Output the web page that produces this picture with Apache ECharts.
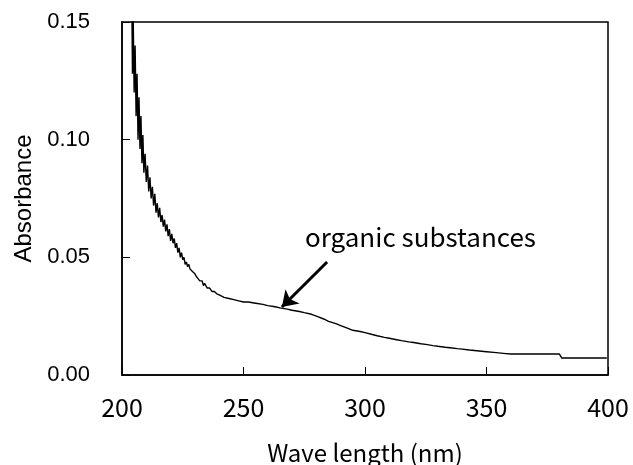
<!DOCTYPE html>
<html>
<head>
<meta charset="utf-8">
<script src="https://cdn.jsdelivr.net/npm/echarts@6/dist/echarts.min.js"></script>
<style>
html,body{margin:0;padding:0;background:#fff;}
#chart{width:633px;height:465px;}
</style>
</head>
<body>
<div id="chart"></div>
<script>
// Wavelength (nm)
const wavelength = [
  204.0,204.3,204.6,205.0,205.4,205.8,206.2,206.6,207.0,207.4,207.8,208.2,208.6,209.0,209.5,210.0,
  210.5,211.0,211.5,212.0,212.5,213.0,213.5,214.0,214.5,215.0,215.5,216.0,216.5,217.0,217.5,218.0,
  218.5,219.0,219.5,220.0,220.5,221.0,221.5,222.0,222.5,223.0,223.5,224.0,224.5,225.0,225.5,226.0,
  226.5,227.0,227.5,228.0,228.5,229.0,230.0,230.5,231.0,232.0,233.0,233.5,234.0,235.0,236.0,237.0,
  238.0,239.0,240.0,242.0,244.0,246.0,248.0,250.0,252.0,255.0,258.0,260.0,263.0,265.0,268.0,270.0,
  273.0,275.0,278.0,280.0,283.0,285.0,288.0,290.0,293.0,295.0,298.0,300.0,303.0,305.0,308.0,310.0,
  313.0,315.0,318.0,320.0,323.0,325.0,328.0,330.0,333.0,335.0,338.0,340.0,343.0,345.0,348.0,350.0,
  353.0,355.0,358.0,360.0,365.0,370.0,375.0,380.0,381.0,385.0,390.0,395.0,399.5
];
// Absorbance values
const absorbance = [
  0.165,0.128,0.152,0.120,0.140,0.110,0.128,0.100,0.118,0.096,0.110,0.090,0.102,0.086,0.094,0.082,
  0.089,0.078,0.084,0.075,0.080,0.072,0.077,0.069,0.073,0.067,0.071,0.065,0.068,0.063,0.066,0.061,
  0.064,0.059,0.062,0.057,0.060,0.056,0.058,0.054,0.056,0.052,0.054,0.050,0.052,0.049,0.050,0.047,
  0.048,0.046,0.047,0.045,0.045,0.044,0.043,0.042,0.042,0.040,0.040,0.038,0.039,0.037,0.037,0.0355,
  0.0355,0.0345,0.034,0.033,0.0325,0.032,0.0315,0.031,0.031,0.0305,0.030,0.0295,0.029,0.0285,0.028,0.0275,
  0.027,0.0265,0.0258,0.025,0.0238,0.0228,0.0218,0.021,0.0198,0.019,0.0185,0.018,0.0172,0.0167,0.016,0.0156,
  0.015,0.0146,0.0141,0.0138,0.0133,0.013,0.0125,0.0122,0.0118,0.0116,0.0112,0.011,0.0106,0.0104,0.0101,0.0099,
  0.0096,0.0094,0.0091,0.0089,0.0089,0.0089,0.0089,0.0089,0.0072,0.0072,0.0072,0.0072,0.0072
];
const xTicks = [200, 250, 300, 350, 400];
const yTicks = [0.00, 0.05, 0.10, 0.15];
const annotationText = 'organic substances';
const arrowFrom = [284.4, 0.048];
const arrowTo = [265.8, 0.0289];
const textAnchor = [275.3, 0.0587];

const seriesData = wavelength.map((w, i) => [w, absorbance[i]]);

const chart = echarts.init(document.getElementById('chart'), null, {renderer: 'canvas'});
const cjk = '"Noto Sans CJK JP", "Noto Sans", sans-serif';
const latin = '"Liberation Sans", Arial, sans-serif';

chart.setOption({
  animation: false,
  backgroundColor: '#fff',
  grid: {
    left: 122, right: 25, top: 22, bottom: 90,
    containLabel: false, outerBoundsMode: 'none',
    show: true, borderColor: '#000', borderWidth: 1.5, backgroundColor: 'transparent'
  },
  xAxis: {
    type: 'value',
    min: xTicks[0], max: xTicks[xTicks.length - 1], interval: 50,
    name: 'Wave length (nm)',
    nameLocation: 'middle', nameGap: 66,
    nameTextStyle: {fontFamily: cjk, fontSize: 24, color: '#000'},
    axisLine: {lineStyle: {color: '#000', width: 1.5}},
    axisTick: {inside: true, length: 8, lineStyle: {color: '#000', width: 1}},
    axisLabel: {margin: 20, fontFamily: cjk, fontSize: 25, color: '#000'},
    splitLine: {show: false}
  },
  yAxis: {
    type: 'value',
    min: yTicks[0], max: yTicks[yTicks.length - 1], interval: 0.05,
    name: 'Absorbance',
    nameLocation: 'middle', nameGap: 84,
    nameTextStyle: {fontFamily: latin, fontSize: 24, color: '#000'},
    axisLine: {lineStyle: {color: '#000', width: 1.5}},
    axisTick: {inside: true, length: 8, lineStyle: {color: '#000', width: 1}},
    axisLabel: {margin: 32, fontFamily: latin, fontSize: 22, color: '#000',
      formatter: v => v.toFixed(2)},
    splitLine: {show: false}
  },
  series: [{
    type: 'line',
    data: seriesData,
    showSymbol: false,
    symbol: 'none',
    clip: true,
    lineStyle: {color: '#000', width: 1.4},
    markLine: {
      silent: true,
      symbol: ['none', 'arrow'],
      symbolSize: 15,
      lineStyle: {color: '#000', width: 3, type: 'solid'},
      label: {show: false},
      data: [[{coord: arrowFrom}, {coord: arrowTo}]]
    },
    markPoint: {
      silent: true,
      symbol: 'circle', symbolSize: 0,
      label: {show: true, position: 'right', distance: 0, formatter: annotationText,
        fontFamily: cjk, fontSize: 26, color: '#000'},
      data: [{coord: textAnchor}]
    }
  }]
});
</script>
</body>
</html>
